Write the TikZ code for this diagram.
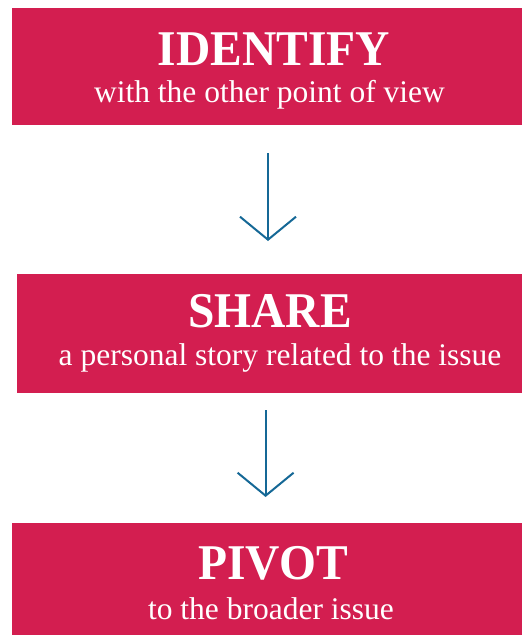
\documentclass[tikz,border=0pt]{standalone}
\usepackage{fontspec}
\setmainfont{Liberation Serif}
\newfontfamily\titlefont{Liberation Serif}[FakeStretch=0.95]
\usetikzlibrary{arrows.meta}
\definecolor{boxred}{RGB}{211,30,80}
\definecolor{arrowblue}{RGB}{21,104,150}
\tikzset{
  stepbox/.style={fill=boxred, draw=none, inner sep=0, outer sep=0},
  titletext/.style={text=white, inner sep=0, anchor=base, font=\titlefont\bfseries\fontsize{50}{50}\selectfont},
  subtext/.style={text=white, inner sep=0, anchor=base, font=\fontsize{31.5}{32}\selectfont},
  flow/.style={draw=arrowblue, line width=2pt, -{Straight Barb[length=23pt,width=56pt,line width=2pt]}}
}
\begin{document}
\begin{tikzpicture}[x=1pt,y=-1pt]
\useasboundingbox (0,0) rectangle (522,635);
\node[stepbox, minimum width=510pt, minimum height=116.5pt] (box1) at (267,66.25) {};
\node[stepbox, minimum width=505pt, minimum height=118.5pt] (box2) at (269.5,333.25) {};
\node[stepbox, minimum width=510pt, minimum height=112pt] (box3) at (267,579) {};
\node[titletext] (t1) at (274,65) {IDENTIFY};
\node[subtext] (s1) at (269.5,102.3) {with the other point of view};
\node[titletext] (t2) at (270,327.7) {SHARE};
\node[subtext] (s2) at (280,365) {a personal story related to the issue};
\node[titletext] (t3) at (273,579) {PIVOT};
\node[subtext] (s3) at (271,619) {to the broader issue};
\coordinate (a1s) at (268,153);
\coordinate (a1e) at (268,241);
\coordinate (a2s) at (265.6,410);
\coordinate (a2e) at (265.6,497);
\draw[flow] (a1s) -- (a1e);
\draw[flow] (a2s) -- (a2e);
\end{tikzpicture}
\end{document}
